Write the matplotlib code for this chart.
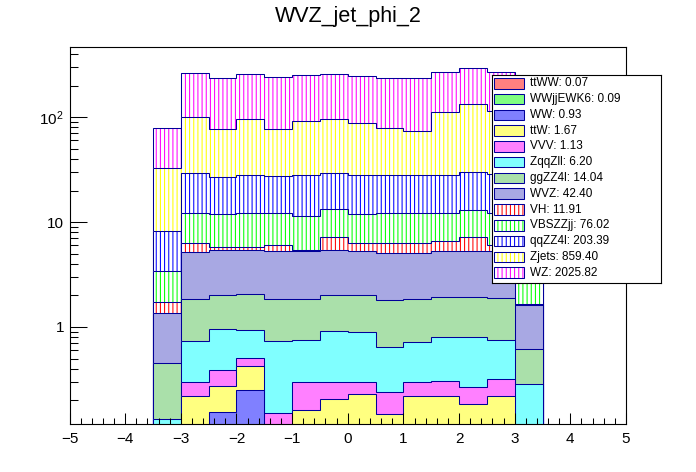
import numpy as np
import matplotlib
matplotlib.use("Agg")
import matplotlib.pyplot as plt
from matplotlib.patches import Rectangle
from matplotlib.colors import to_rgb
from matplotlib.ticker import FixedLocator, MultipleLocator, LogLocator, NullFormatter

plt.rcParams['font.family'] = ['Liberation Sans', 'DejaVu Sans']
plt.rcParams['hatch.linewidth'] = 0.75
plt.rcParams['mathtext.fontset'] = 'custom'
plt.rcParams['mathtext.rm'] = 'Liberation Sans'

# ---------------- data ----------------
bin_edges = [-3.5, -3.0, -2.5, -2.0, -1.5, -1.0, -0.5, 0.0, 0.5, 1.0, 1.5, 2.0, 2.5, 3.0, 3.5]

processes = ["ttWW", "WWjjEWK6", "WW", "ttW", "VVV", "ZqqZll", "ggZZ4l", "WVZ",
             "VH", "VBSZZjj", "qqZZ4l", "Zjets", "WZ"]
legend_totals = ["0.07", "0.09", "0.93", "1.67", "1.13", "6.20", "14.04", "42.40",
                 "11.91", "76.02", "203.39", "859.40", "2025.82"]

ttWW     = [0.002, 0.005, 0.006, 0.006, 0.005, 0.006, 0.006, 0.006, 0.005, 0.006, 0.006, 0.005, 0.005, 0.002]
WWjjEWK6 = [0.002, 0.007, 0.007, 0.007, 0.007, 0.007, 0.008, 0.008, 0.007, 0.007, 0.007, 0.007, 0.007, 0.002]
WW       = [0.010, 0.060, 0.141, 0.236, 0.040, 0.050, 0.050, 0.050, 0.050, 0.060, 0.060, 0.050, 0.060, 0.010]
ttW      = [0.010, 0.149, 0.122, 0.179, 0.030, 0.100, 0.141, 0.164, 0.085, 0.148, 0.147, 0.121, 0.149, 0.010]
VVV      = [0.010, 0.076, 0.111, 0.075, 0.071, 0.138, 0.096, 0.073, 0.091, 0.080, 0.088, 0.083, 0.096, 0.010]
ZqqZll   = [0.099, 0.438, 0.564, 0.433, 0.582, 0.451, 0.609, 0.595, 0.411, 0.414, 0.490, 0.532, 0.434, 0.250]
ggZZ4l   = [0.324, 1.114, 1.068, 1.128, 1.113, 1.097, 1.109, 1.123, 1.160, 1.134, 1.134, 1.134, 1.151, 0.329]
WVZ      = [0.894, 3.373, 3.367, 3.322, 3.454, 3.454, 3.367, 3.319, 3.231, 3.259, 3.406, 3.406, 3.400, 1.008]
VH       = [0.362, 1.058, 0.367, 0.367, 0.706, 0.117, 1.779, 0.942, 1.240, 1.172, 1.266, 1.827, 0.800, 0.030]
VBSZZjj  = [1.707, 5.850, 6.117, 6.377, 6.120, 6.010, 6.075, 5.590, 6.010, 6.010, 5.690, 5.875, 6.000, 1.900]
qqZZ4l   = [4.80, 17.06, 14.87, 15.99, 15.56, 16.69, 15.95, 16.25, 15.83, 15.83, 15.83, 16.80, 16.50, 5.20]
Zjets    = [24.4, 71.9, 49.96, 67.4, 49.0, 63.9, 66.3, 59.4, 50.3, 46.2, 84.7, 103.8, 86.0, 26.0]
WZ       = [45.8, 161.0, 158.2, 160.9, 163.5, 160.6, 160.9, 159.6, 159.7, 163.8, 158.7, 158.9, 157.0, 47.0]

values = [ttWW, WWjjEWK6, WW, ttW, VVV, ZqqZll, ggZZ4l, WVZ, VH, VBSZZjj, qqZZ4l, Zjets, WZ]

# ---------------- style ----------------
base_colors = ["#ff0000", "#00ff00", "#0000ff", "#ffff00", "#ff00ff", "#00ffff", "#55c055",
               "#5050c8", "#ff0000", "#00ff00", "#0000ff", "#ffff00", "#ff00ff"]
fill_kind = ["checker"] * 8 + ["vlines"] * 5
outline = "#000099"


def blend(c, f=0.5):
    r, g, b = to_rgb(c)
    return (r * f + (1 - f), g * f + (1 - f), b * f + (1 - f))


W, H = 696, 472
fig = plt.figure(figsize=(W / 100, H / 100), dpi=100)
ax = fig.add_axes([69.5 / W, (H - 424) / H, (626 - 69.5) / W, (424 - 47.3) / H])

ax.set_yscale('log')
ax.set_xlim(-5, 5)
ax.set_ylim(0.1189, 463.9)

cum = np.cumsum(np.array(values), axis=0)
base = 1e-3
for i in range(len(processes) - 1, -1, -1):
    if fill_kind[i] == "checker":
        ax.stairs(cum[i], bin_edges, baseline=base, fill=True,
                  facecolor=blend(base_colors[i]), edgecolor='none', linewidth=0)
    else:
        ax.stairs(cum[i], bin_edges, baseline=base, fill=True,
                  facecolor='white', edgecolor=base_colors[i], linewidth=0, hatch='||||')
    ax.stairs(cum[i], bin_edges, baseline=base, fill=False,
              edgecolor=outline, linewidth=0.75)

# axes / ticks
for s in ax.spines.values():
    s.set_linewidth(0.8)
    s.set_color('black')

ax.xaxis.set_major_locator(FixedLocator([-5, -4, -3, -2, -1, 0, 1, 2, 3, 4, 5]))
ax.xaxis.set_minor_locator(MultipleLocator(0.2))
ax.set_yticks([1, 10, 100])
ax.set_yticklabels(['1', '10', r'$\mathregular{10^{2}}$'])
ax.yaxis.set_minor_locator(LogLocator(base=10, subs=np.arange(2, 10)))
ax.yaxis.set_minor_formatter(NullFormatter())

ax.tick_params(axis='x', which='major', direction='in', length=7.7, width=0.75,
               labelsize=11, pad=5.5, top=False)
ax.tick_params(axis='x', which='minor', direction='in', length=4.1, width=0.75, top=False)
ax.tick_params(axis='y', which='major', direction='in', length=12.3, width=0.75,
               labelsize=11, pad=4, right=False)
ax.tick_params(axis='y', which='minor', direction='in', length=6.0, width=0.75, right=False)

# title
fig.text(0.5, 1 - 21.7 / H, "WVZ_jet_phi_2", ha='center', va='baseline', fontsize=15.5)

# legend (drawn in pixel coordinates)
lx0, lx1, ly0, ly1 = 492.0, 661.0, 75.0, 283.3
lax = fig.add_axes([lx0 / W, (H - ly1) / H, (lx1 - lx0) / W, (ly1 - ly0) / H])
lax.set_xlim(lx0, lx1)
lax.set_ylim(ly1, ly0)
lax.set_xticks([])
lax.set_yticks([])
lax.set_facecolor('white')
for s in lax.spines.values():
    s.set_linewidth(0.8)
    s.set_color('black')

row0, drow = 83.3, 15.78
for i, (name, tot) in enumerate(zip(processes, legend_totals)):
    yc = row0 + i * drow
    if fill_kind[i] == "checker":
        lax.add_patch(Rectangle((493.8, yc - 5.3), 30.5, 10.6, facecolor=blend(base_colors[i]),
                                edgecolor='none', linewidth=0))
    else:
        lax.add_patch(Rectangle((493.8, yc - 5.3), 30.5, 10.6, facecolor='white',
                                edgecolor=base_colors[i], linewidth=0, hatch='||||'))
    lax.add_patch(Rectangle((493.8, yc - 5.3), 30.5, 10.6, fill=False,
                            edgecolor=outline, linewidth=0.75))
    lax.text(530, yc, f"{name}: {tot}", ha='left', va='center', fontsize=8.5)

fig.savefig("out.png", dpi=100)
